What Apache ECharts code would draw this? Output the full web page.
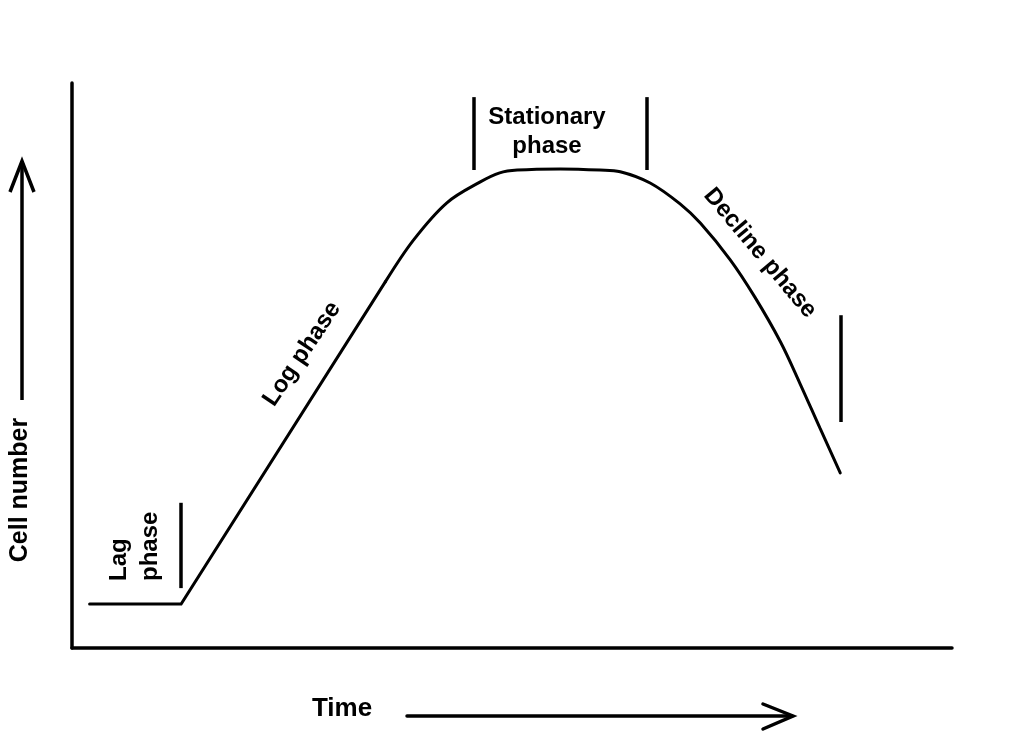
<!DOCTYPE html>
<html>
<head>
<meta charset="utf-8">
<script src="https://cdn.jsdelivr.net/npm/echarts@6/dist/echarts.min.js"></script>
<style>
html,body{margin:0;padding:0;background:#fff;}
#chart{width:1024px;height:744px;}
</style>
</head>
<body>
<div id="chart"></div>
<script>
// Lag phase + straight log phase (sharp corner at end of lag)
const lagLogTime  = [2.0, 12.4, 35.6];
const lagLogCells = [7.8, 7.8, 64.8];
// Curved part: end of log phase, stationary, decline
const curveTime  = [35.6, 38.8, 42.6, 46.4, 48.6, 50.6, 55.5, 60.0, 62.3, 65.7, 69.1, 71.4, 74.8, 77.6, 80.5, 82.7, 85.0, 87.3];
const curveCells = [64.8, 72.2, 78.8, 82.5, 84.1, 84.6, 84.8, 84.6, 84.3, 82.3, 78.6, 75.2, 68.7, 62.1, 54.2, 46.9, 38.9, 31.0];
// Phase boundary markers
const boundaryTime = [12.4, 45.6, 65.3, 87.4];
const boundaryFrom = [10.6, 84.6, 84.6, 40.0];
const boundaryTo   = [25.7, 97.5, 97.5, 58.9];
// Texts
const phaseLabels = ['Lag', 'phase', 'Log phase', 'Stationary', 'phase', 'Decline phase'];
const axisTitles = ['Cell number', 'Time'];

const chart = echarts.init(document.getElementById('chart'), null, {renderer: 'canvas'});
const FONT = '"Liberation Sans", Arial, sans-serif';
const BLACK = '#000';

function txt(text, x, y, deg, size, align) {
  align = align || 'center';
  return {
    type: 'text', x: x, y: y, rotation: deg * Math.PI / 180,
    style: {
      text: text, fill: BLACK,
      font: 'bold ' + size + 'px ' + FONT,
      align: align, verticalAlign: 'middle',
      textAlign: align, textVerticalAlign: 'middle'
    }
  };
}

const markData = boundaryTime.map((t, i) => [
  {coord: [t, boundaryFrom[i]]},
  {coord: [t, boundaryTo[i]]}
]);

const option = {
  backgroundColor: '#fff',
  animation: false,
  grid: {left: 72, right: 72, top: 83, bottom: 96},
  xAxis: {
    type: 'value', min: 0, max: 100,
    axisLine: {show: true, onZero: false, lineStyle: {color: BLACK, width: 3.5}},
    axisTick: {show: false}, axisLabel: {show: false}, splitLine: {show: false}
  },
  yAxis: {
    type: 'value', min: 0, max: 100,
    axisLine: {show: true, onZero: false, lineStyle: {color: BLACK, width: 3.5}},
    axisTick: {show: false}, axisLabel: {show: false}, splitLine: {show: false}
  },
  series: [
    {
      type: 'line',
      data: lagLogTime.map((t, i) => [t, lagLogCells[i]]),
      showSymbol: false, symbol: 'none',
      lineStyle: {color: BLACK, width: 3, cap: 'round', join: 'miter'},
      markLine: {
        silent: true, symbol: ['none', 'none'], animation: false,
        label: {show: false},
        lineStyle: {color: BLACK, width: 3.5, type: 'solid'},
        data: markData
      }
    },
    {
      type: 'line',
      data: curveTime.map((t, i) => [t, curveCells[i]]),
      showSymbol: false, symbol: 'none',
      smooth: 0.35,
      lineStyle: {color: BLACK, width: 3, cap: 'round'}
    }
  ],
  graphic: [
    // Cell number arrow
    {type: 'line', shape: {x1: 22, y1: 400, x2: 22, y2: 161}, style: {stroke: BLACK, lineWidth: 3.5}},
    {type: 'polyline', shape: {points: [[10, 192], [22, 161], [34, 192]]}, style: {stroke: BLACK, lineWidth: 3.5, fill: null, lineJoin: 'miter'}},
    // Time arrow
    {type: 'line', shape: {x1: 407, y1: 716, x2: 792, y2: 716}, style: {stroke: BLACK, lineWidth: 3.5, lineCap: 'round'}},
    {type: 'polyline', shape: {points: [[763, 704], [793, 716], [763, 729]]}, style: {stroke: BLACK, lineWidth: 3.5, fill: null, lineCap: 'round'}},
    txt(axisTitles[0], 20, 490, 90, 25),
    txt(axisTitles[1], 342, 709, 0, 26),
    txt(phaseLabels[0], 119, 581, 90, 24, 'left'),
    txt(phaseLabels[1], 150, 581, 90, 24, 'left'),
    txt(phaseLabels[2], 302, 354, 56, 24),
    txt(phaseLabels[3], 547, 117, 0, 24),
    txt(phaseLabels[4], 547, 146, 0, 24),
    txt(phaseLabels[5], 760, 253, -50, 24)
  ]
};
chart.setOption(option);
</script>
</body>
</html>
